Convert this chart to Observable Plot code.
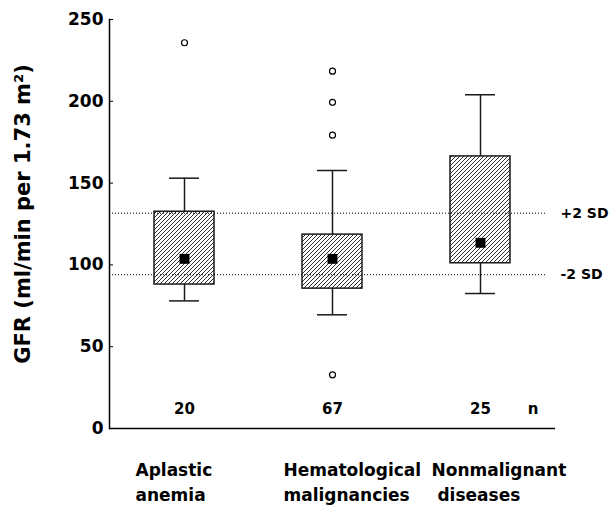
<!DOCTYPE html>
<html>
<head>
<meta charset="utf-8">
<script src="https://cdn.jsdelivr.net/npm/d3@7"></script>
<script src="https://cdn.jsdelivr.net/npm/@observablehq/plot@0.6"></script>
<style>
  body { margin: 0; background: #fff; }
</style>
</head>
<body>
<div id="chart"></div>
<script>
// GFR by diagnosis group: box (quartiles), whiskers, mean square and outliers
const groups = ["Aplastic anemia", "Hematological malignancies", "Nonmalignant diseases"];
const groupLabels = ["Aplastic\nanemia", "Hematological\nmalignancies", "Nonmalignant\n\u00a0diseases"];
const counts = [20, 67, 25];
const whiskerLow = [78, 69.5, 82.5];
const quartile1 = [88, 85.5, 101];
const means = [103.7, 103.7, 113.5];
const quartile3 = [132.5, 118.5, 166.3];
const whiskerHigh = [153, 157.7, 204];
const outlierGroup = [0, 1, 1, 1, 1];
const outlierValue = [235.8, 218.4, 199.4, 179.3, 32.8];
const sdValues = [131.6, 94];
const sdLabels = ["+2 SD", "-2 SD"];
const yTicks = [0, 50, 100, 150, 200, 250];

const boxes = groups.map((g, i) => ({
  group: g, low: whiskerLow[i], q1: quartile1[i], mean: means[i],
  q3: quartile3[i], high: whiskerHigh[i], n: counts[i], label: groupLabels[i]
}));
const outliers = outlierValue.map((v, i) => ({ group: groups[outlierGroup[i]], value: v }));
const sdLines = sdValues.map((v, i) => ({ value: v, label: sdLabels[i] }));

const ink = "#1a1a1a";

const chart = Plot.plot({
  width: 610,
  height: 505,
  marginLeft: 109,
  marginRight: 55,
  marginTop: 19,
  marginBottom: 77,
  style: { fontFamily: "DejaVu Sans", fontWeight: "bold", color: "#000", background: "#fff", overflow: "visible" },
  x: { domain: groups, type: "band", paddingInner: 0.596, paddingOuter: 0.298, axis: null },
  y: { domain: [0, 250], axis: null, label: null },
  marks: [
    // whiskers and caps
    Plot.ruleX(boxes, { x: "group", y1: "q3", y2: "high", stroke: ink, strokeWidth: 1.5 }),
    Plot.ruleX(boxes, { x: "group", y1: "low", y2: "q1", stroke: ink, strokeWidth: 1.5 }),
    Plot.tickY(boxes, { x: "group", y: "high", insetLeft: 15, insetRight: 15, stroke: ink, strokeWidth: 1.5 }),
    Plot.tickY(boxes, { x: "group", y: "low", insetLeft: 15, insetRight: 15, stroke: ink, strokeWidth: 1.5 }),
    // hatched interquartile boxes
    Plot.barY(boxes, { x: "group", y1: "q1", y2: "q3", fill: "url(#hatch)", stroke: ink, strokeWidth: 1.5 }),
    // reference range lines
    Plot.ruleY(sdLines, { y: "value", stroke: "#000", strokeWidth: 1, strokeDasharray: "1,2", insetRight: 9 }),
    Plot.text(sdLines, { y: "value", text: "label", frameAnchor: "right", textAnchor: "start", dx: 5, fontSize: 14 }),
    // means and outliers
    Plot.dot(boxes, { x: "group", y: "mean", symbol: "square", r: 5.6, fill: "#000" }),
    Plot.dot(outliers, { x: "group", y: "value", r: 3, stroke: "#000", fill: "#fff", strokeWidth: 1.2 }),
    // group sizes
    Plot.text(boxes, { x: "group", text: d => String(d.n), frameAnchor: "bottom", dy: -15, fontSize: 15 }),
    Plot.text(["n"], { text: d => d, frameAnchor: "bottom-right", dx: -17, dy: -15, fontSize: 15 }),
    // group names
    Plot.text(boxes, { x: "group", text: "label", frameAnchor: "bottom", lineAnchor: "top", textAnchor: "start",
      dx: -49, dy: 30, fontSize: 17, lineHeight: 1.45 }),
    // y axis: inward ticks, labels, title
    Plot.ruleY(yTicks, { y: d => d, insetRight: 442, stroke: "#000", strokeWidth: 1 }),
    Plot.axisY({ ticks: yTicks, tickSize: 0, tickPadding: 6, fontSize: 17, label: null, tickFormat: d => String(d) }),
    Plot.text(["GFR (ml/min per 1.73 m²)"], { text: d => d, frameAnchor: "left", textAnchor: "middle", rotate: -90,
      dx: -86, dy: -10, fontSize: 21 }),
    Plot.ruleY([0], { stroke: "#000", strokeWidth: 1.5 }),
    Plot.frame({ anchor: "left", stroke: "#000", strokeWidth: 1.5 })
  ]
});

// diagonal hatch used by the boxes
const ns = "http://www.w3.org/2000/svg";
const defs = document.createElementNS(ns, "defs");
defs.innerHTML = '<pattern id="hatch" patternUnits="userSpaceOnUse" width="4" height="4">' +
  '<rect width="4" height="4" fill="#fff"/>' +
  '<path d="M-1,1 l2,-2 M0,4 l4,-4 M3,5 l2,-2" stroke="#333" stroke-width="1"/></pattern>';
chart.insertBefore(defs, chart.firstChild);

document.getElementById("chart").appendChild(chart);
</script>
</body>
</html>
